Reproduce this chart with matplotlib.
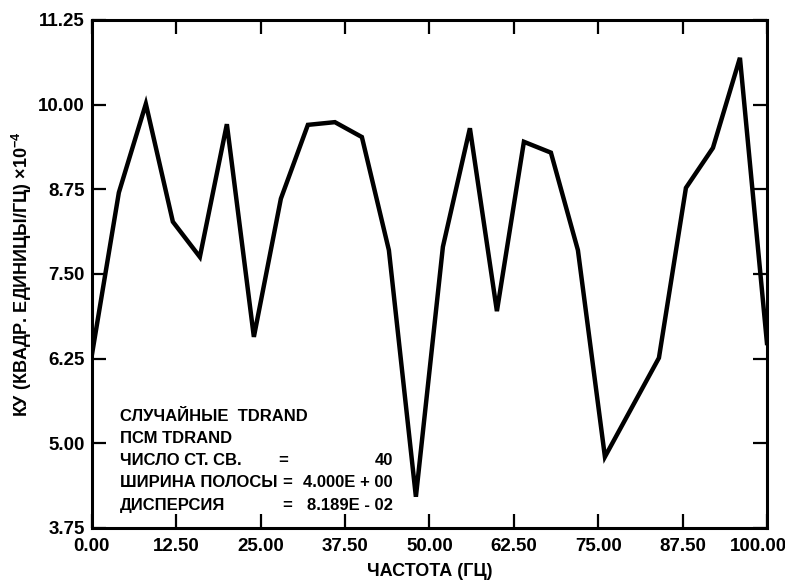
import numpy as np
import matplotlib
matplotlib.use("Agg")
import matplotlib.pyplot as plt
from matplotlib import transforms

# spectrum, one point every 4 Hz
freq = [0, 4, 8, 12, 16, 20, 24, 28, 32, 36, 40, 44, 48,
        52, 56, 60, 64, 68, 72, 76, 80, 84, 88, 92, 96, 100]
psd = [6.30, 8.70, 10.01, 8.27, 7.75, 9.71, 6.57, 8.61, 9.70, 9.74, 9.52, 7.85, 4.21,
       7.90, 9.65, 6.95, 9.45, 9.29, 7.85, 4.80, 5.53, 6.26, 8.77, 9.36, 10.69, 6.48]

x_ticks = [0, 12.5, 25, 37.5, 50, 62.5, 75, 87.5, 100]
y_ticks = [3.75, 5.0, 6.25, 7.5, 8.75, 10.0, 11.25]

info_labels = ["СЛУЧАЙНЫЕ  TDRAND", "ПСМ TDRAND", "ЧИСЛО СТ. СВ.",
               "ШИРИНА ПОЛОСЫ", "ДИСПЕРСИЯ"]
info_values = ["", "", "40", "4.000E + 00", "8.189E - 02"]

plt.rcParams["font.family"] = ["Liberation Sans", "DejaVu Sans"]
plt.rcParams["font.weight"] = "bold"
plt.rcParams["mathtext.fontset"] = "custom"
plt.rcParams["mathtext.rm"] = "Liberation Sans:bold"

tick_fs = 13.5
lab_fs = 13
txt_fs = 12

fig = plt.figure(figsize=(7.85, 5.84), dpi=100)
ax = fig.add_axes([0.117, 0.096, 0.860, 0.870])

ax.plot(freq, psd, color="black", lw=3.2, solid_joinstyle="miter")

ax.set_xlim(0, 100)
ax.set_ylim(3.75, 11.25)
ax.set_xticks(x_ticks)
ax.set_yticks(y_ticks)
ax.set_xticklabels([f"{v:.2f}" for v in x_ticks], fontsize=tick_fs, fontweight="bold")
ax.set_yticklabels([f"{v:.2f}" for v in y_ticks], fontsize=tick_fs, fontweight="bold")
ax.tick_params(direction="in", length=10, width=1.6, top=True, right=True)
ax.tick_params(axis="x", pad=7)
ax.tick_params(axis="y", pad=5)

# last x label sits a bit left so it stays inside the figure
last = ax.get_xticklabels()[-1]
last.set_transform(last.get_transform() +
                   transforms.ScaledTranslation(-9 / 100, 0, fig.dpi_scale_trans))

for s in ax.spines.values():
    s.set_linewidth(2.2)

ax.set_xlabel("ЧАСТОТА (ГЦ)", fontsize=lab_fs, fontweight="bold", labelpad=6)
ax.set_ylabel("КУ (КВАДР. ЕДИНИЦЫ/ГЦ) ×10$^{-4}$", fontsize=lab_fs,
              fontweight="bold", labelpad=3)

# info block in the lower left corner
line_y = [0.219, 0.177, 0.132, 0.089, 0.045]
eq_x = [None, None, 0.283, 0.290, 0.289]
for lab, val, yy, ex in zip(info_labels, info_values, line_y, eq_x):
    ax.text(0.041, yy, lab, transform=ax.transAxes, fontsize=txt_fs,
            fontweight="bold", va="center", ha="left")
    if val:
        ax.text(0.446, yy, val, transform=ax.transAxes, fontsize=txt_fs,
                fontweight="bold", va="center", ha="right")
        ax.text(ex, yy, "=", transform=ax.transAxes, fontsize=txt_fs,
                fontweight="bold", va="center", ha="center")

fig.savefig("out.png", dpi=100)
